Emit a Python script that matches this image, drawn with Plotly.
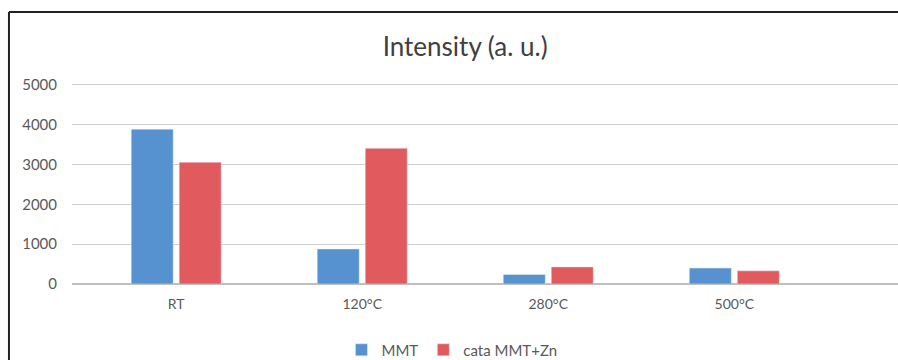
import plotly.graph_objects as go

categories = ['RT', '120°C', '280°C', '500°C']
mmt = [3890, 880, 240, 400]
cata_mmt_zn = [3060, 3410, 430, 330]
y_ticks = [0, 1000, 2000, 3000, 4000, 5000]

font_family = 'Lato, Open Sans, sans-serif'

fig = go.Figure()
fig.add_trace(go.Bar(x=categories, y=mmt, name='MMT', marker_color='#5592cf'))
fig.add_trace(go.Bar(x=categories, y=cata_mmt_zn, name='cata MMT+Zn', marker_color='#e15a5e'))

# figure is a bit taller than the window so the legend can sit at the bottom edge
fig.update_layout(
    width=898,
    height=376,
    margin=dict(l=72, r=0, t=77, b=92),
    paper_bgcolor='white',
    plot_bgcolor='white',
    font=dict(family=font_family, size=14, color='#595959'),
    title=dict(
        text='Intensity (a. u.)',
        x=0.518,
        xanchor='center',
        y=1 - 47 / 376,
        yanchor='middle',
        font=dict(size=26, color='#404040', family=font_family)
    ),
    barmode='group',
    bargap=0.484,
    bargroupgap=0.125,
    legend=dict(
        orientation='h',
        x=0.46,
        xanchor='center',
        y=-0.319,
        yanchor='middle',
        font=dict(size=15, color='#595959'),
        itemwidth=30
    ),
    shapes=[
        dict(
            type='line', xref='paper', yref='paper',
            x0=-0.0763, x1=-0.0763, y0=-0.6, y1=1.314,
            line=dict(color='#222222', width=2)
        ),
        dict(
            type='line', xref='paper', yref='paper',
            x0=-0.0763, x1=1.0, y0=1.314, y1=1.314,
            line=dict(color='#222222', width=2)
        )
    ]
)

fig.update_xaxes(
    range=[-0.56, 3.88],
    showgrid=False,
    showline=False,
    zeroline=False,
    ticks='',
    ticklabelstandoff=10
)
fig.update_yaxes(
    range=[0, 5200],
    tickvals=y_ticks,
    tickfont=dict(size=15),
    showgrid=True,
    gridcolor='#d0d0d0',
    gridwidth=1,
    zeroline=True,
    zerolinecolor='#bfbfbf',
    showline=False,
    ticks='',
    ticklabelstandoff=14
)

fig.write_html(
    'out.html',
    config={'displayModeBar': False},
    post_script="document.body.style.margin='0';"
                "document.body.style.overflow='hidden';"
                "document.documentElement.style.overflow='hidden';"
)
